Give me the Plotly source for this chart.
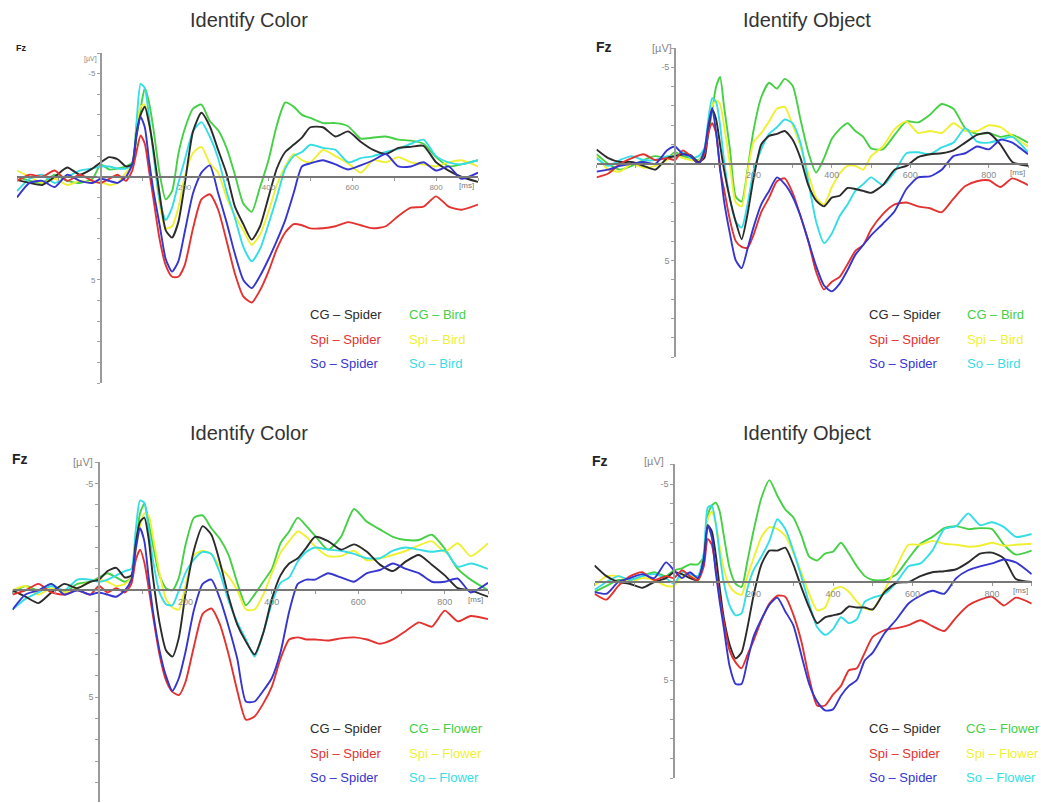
import plotly.graph_objects as go

# Shared time base (ms) for every averaged ERP waveform at Fz
time_ms = [-200, -170, -140, -110, -80, -50, -20, 0, 20, 40, 60, 75, 85, 95, 105, 115, 125,
           140, 155, 170, 185, 200, 220, 240, 260, 280, 300, 320, 340, 360, 380, 400, 420,
           440, 460, 480, 500, 530, 560, 590, 620, 650, 680, 710, 740, 770, 800, 830, 860, 900]

# ---- Identify Color, spider vs. bird (µV, negative up) ----
color_bird_cg_spider = [0.15, 0.3, 0.4, 0.0, -0.45, -0.1, -0.4, -0.7, -0.95, -0.85, -0.5, -0.6, -2.1, -3.0, -3.4, -2.6, -1.4,
                        0.8, 2.6, 2.95, 2.2, 0.4, -2.2, -3.1, -2.45, -1.3, -0.15, 1.45, 2.3, 3.05, 2.4, 1.0, -0.4,
                        -1.2, -1.55, -1.9, -2.4, -2.4, -1.95, -2.2, -1.7, -1.3, -1.1, -1.4, -1.45, -1.5, -0.7, -0.3, 0.0, 0.25]
color_bird_spi_spider = [0.2, -0.1, 0.0, -0.3, 0.2, -0.1, 0.2, 0.3, 0.1, -0.1, 0.2, -0.3, -1.2, -2.0, -1.6, -0.3, 1.0,
                         3.0, 4.3, 4.85, 4.85, 4.3, 2.5, 1.1, 0.85, 1.6, 3.1, 4.7, 5.8, 6.1, 5.5, 4.6, 3.5,
                         2.7, 2.3, 2.35, 2.5, 2.5, 2.4, 2.2, 2.35, 2.5, 2.4, 1.9, 1.5, 1.45, 0.95, 1.45, 1.6, 1.35]
color_bird_so_spider = [1.0, 0.3, 0.2, 0.5, -0.1, 0.2, 0.3, 0.1, 0.2, 0.3, 0.0, -0.6, -2.0, -2.9, -2.4, -0.8, 0.6,
                        2.3, 4.0, 4.6, 4.1, 2.7, 0.8, -0.2, -0.55, 0.8, 2.2, 3.75, 5.0, 5.4, 4.8, 4.0, 3.1,
                        2.1, 0.8, -0.5, -0.65, -0.8, -0.6, -0.35, -0.55, -0.8, -1.1, -0.5, -0.5, -0.7, -0.3, -0.5, 0.1, -0.2]
color_bird_cg_bird = [0.0, 0.2, 0.3, -0.1, 0.2, 0.3, 0.1, -0.6, -0.35, -0.4, -0.5, -0.7, -1.9, -3.3, -4.3, -3.6, -2.4,
                      -0.2, 1.1, 0.7, -1.1, -2.3, -3.3, -3.5, -2.7, -2.25, -1.4, -0.1, 1.3, 1.7, 0.5, -0.8, -2.5,
                      -3.6, -3.4, -3.0, -2.85, -2.6, -2.6, -2.45, -1.85, -1.9, -1.95, -1.8, -1.75, -1.6, -0.95, -0.5, -0.6, -0.8]
color_bird_spi_bird = [-0.3, 0.0, 0.3, 0.1, 0.4, 0.2, 0.3, 0.25, 0.4, 0.3, -0.2, -0.6, -2.5, -3.4, -3.5, -2.6, -1.3,
                       1.3, 2.5, 2.4, 1.5, 0.0, -1.15, -1.45, -0.65, -0.2, 1.0, 1.9, 2.6, 3.3, 2.8, 1.7, 0.4,
                       -0.5, -1.1, -0.8, -0.7, -1.3, -1.0, -0.65, -0.2, -0.8, -0.7, -0.95, -0.7, -0.6, -0.5, -0.7, -0.8, -0.5]
color_bird_so_bird = [0.7, 0.1, -0.1, 0.3, 0.0, -0.3, -0.4, -0.5, -0.5, -0.4, -0.4, -0.6, -2.6, -4.5, -4.3, -2.9, -1.2,
                      1.1, 2.1, 1.5, 0.3, -0.8, -2.2, -2.65, -1.95, -0.9, 0.7, 2.0, 3.4, 4.1, 3.5, 2.3, 1.0,
                      -0.4, -1.0, -1.2, -1.55, -1.4, -1.3, -0.7, -0.9, -1.0, -1.2, -1.35, -1.6, -1.8, -1.0, -0.7, -0.6, -0.8]

# ---- Identify Object, spider vs. bird ----
object_bird_cg_spider = [-0.75, -0.3, -0.1, -0.1, 0.1, 0.3, -0.3, -0.4, -0.5, -0.45, -0.1, -0.3, -1.7, -2.8, -2.3, -1.0, 0.3,
                         1.8, 3.0, 3.9, 2.6, 0.8, -1.0, -1.45, -1.55, -1.7, -1.25, -0.3, 1.1, 1.9, 2.2, 1.75, 1.65,
                         1.25, 1.3, 1.4, 1.5, 1.1, 0.3, 0.1, -0.35, -0.5, -0.55, -0.7, -1.1, -1.5, -1.6, -1.0, -0.1, 0.1]
object_bird_spi_spider = [0.7, 0.5, 0.0, -0.3, -0.5, -0.2, -0.3, -0.2, -0.7, -0.4, 0.0, -0.5, -1.6, -2.1, -1.6, 0.3, 1.3,
                          2.9, 4.0, 4.3, 4.35, 3.7, 2.5, 1.75, 0.9, 0.75, 1.5, 2.7, 4.0, 5.6, 6.5, 6.1, 5.85,
                          5.2, 4.5, 4.2, 3.4, 2.6, 2.1, 2.0, 2.2, 2.3, 2.5, 1.8, 1.15, 0.9, 0.85, 1.2, 0.75, 1.1]
object_bird_so_spider = [0.4, 0.3, 0.1, 0.0, -0.1, 0.0, -0.7, -0.9, -0.5, -0.4, 0.0, -0.7, -2.0, -2.9, -1.6, 0.2, 1.9,
                         3.6, 5.0, 5.4, 4.4, 3.3, 2.1, 1.4, 0.7, 1.05, 1.7, 2.7, 4.0, 5.3, 6.3, 6.6, 6.2,
                         5.5, 4.7, 4.2, 3.7, 3.1, 2.45, 1.3, 0.7, 0.65, 0.3, -0.4, -0.55, -0.9, -0.75, -1.25, -1.1, -0.5]
object_bird_cg_bird = [-0.5, 0.0, 0.3, 0.1, -0.2, -0.4, -0.3, -0.6, -0.4, -0.3, -0.2, -0.7, -1.5, -2.8, -4.0, -4.5, -3.0,
                       -0.8, 1.7, 1.95, 0.3, -1.7, -3.45, -4.2, -3.9, -4.4, -4.05, -2.3, -0.6, 0.45, -0.3, -1.3, -1.8,
                       -2.1, -1.7, -1.4, -0.8, -0.75, -1.5, -2.2, -2.15, -2.55, -3.1, -2.85, -1.85, -1.55, -1.6, -1.4, -1.5, -1.1]
object_bird_spi_bird = [-0.4, 0.3, 0.4, 0.0, 0.2, 0.1, -0.2, -0.5, -0.3, -0.2, -0.15, -0.6, -2.0, -3.0, -3.3, -3.1, -2.0,
                        0.0, 2.0, 2.2, 0.4, -1.1, -1.6, -2.2, -2.85, -2.95, -2.0, -0.9, 0.5, 1.75, 2.1, 1.2, 0.5,
                        0.1, 0.1, 0.3, -0.4, -0.9, -1.8, -2.2, -1.6, -1.7, -1.6, -2.1, -1.7, -1.7, -2.0, -1.9, -1.45, -0.9]
object_bird_so_bird = [-0.3, 0.1, -0.2, -0.4, -0.2, -0.2, -0.4, -0.4, -0.6, -0.3, -0.4, -0.8, -2.3, -3.4, -3.2, -2.0, -0.2,
                       1.8, 3.0, 3.3, 2.1, 0.4, -0.75, -1.55, -1.9, -2.3, -2.1, -1.1, 0.9, 3.0, 4.1, 3.6, 2.7,
                       2.1, 1.4, 1.05, 0.7, 1.1, 0.4, -0.55, -0.6, -0.5, -0.85, -1.1, -1.85, -1.15, -1.1, -1.25, -1.4, -0.6]

# ---- Identify Color, spider vs. flower ----
color_flower_cg_spider = [0.0, 0.3, 0.6, 0.1, -0.3, -0.1, -0.4, -0.5, -0.9, -1.05, -0.6, -0.7, -2.2, -3.2, -3.4, -2.4, -0.6,
                          1.5, 2.8, 3.1, 2.2, 0.2, -1.9, -3.0, -2.6, -1.3, 0.3, 1.6, 2.4, 3.0, 2.0, 0.4, -0.7,
                          -1.25, -1.5, -2.0, -2.5, -2.3, -1.9, -2.15, -1.8, -1.2, -0.9, -1.35, -1.65, -1.2, -0.7, -0.1, 0.0, 0.3]
color_flower_spi_spider = [0.2, 0.0, -0.3, 0.1, 0.2, 0.0, 0.2, -0.2, 0.1, -0.1, 0.1, -0.3, -1.4, -1.9, -1.3, -0.1, 1.2,
                           3.0, 4.2, 4.75, 4.9, 4.3, 2.6, 1.1, 0.85, 1.6, 3.0, 4.7, 6.05, 5.9, 5.3, 4.5, 3.2,
                           2.3, 2.2, 2.3, 2.3, 2.35, 2.25, 2.2, 2.3, 2.5, 2.3, 1.9, 1.5, 1.7, 0.95, 1.45, 1.2, 1.35]
color_flower_so_spider = [0.9, 0.2, 0.0, -0.3, 0.2, 0.0, 0.2, 0.1, 0.2, 0.3, 0.0, -0.5, -1.9, -2.9, -2.3, -0.6, 1.0,
                          2.8, 4.0, 4.7, 4.1, 2.9, 0.9, -0.3, -0.5, 0.4, 1.7, 3.2, 5.2, 5.2, 4.7, 4.1, 2.9,
                          1.0, -0.3, -0.5, -0.5, -0.8, -0.6, -0.4, -0.8, -0.95, -1.25, -1.0, -0.8, -0.4, -0.4, -0.55, 0.1, -0.35]
color_flower_cg_flower = [0.1, -0.2, 0.0, -0.3, 0.1, -0.3, -0.4, -0.6, -0.8, -0.6, -0.4, -0.6, -2.0, -3.6, -4.05, -3.2, -2.1,
                          -0.7, -0.1, 0.0, -0.6, -2.1, -3.4, -3.5, -2.9, -2.4, -1.65, -0.35, 0.7, 0.2, -0.4, -1.0, -2.2,
                          -2.75, -3.4, -3.0, -2.55, -1.9, -2.5, -3.8, -3.2, -2.85, -2.5, -2.35, -2.35, -2.6, -1.95, -1.0, -0.5, 0.0]
color_flower_spi_flower = [0.0, -0.2, 0.2, -0.1, 0.1, -0.1, -0.4, -0.5, -0.4, -0.2, -0.3, -0.6, -1.9, -3.0, -3.6, -3.5, -2.5,
                           -0.8, 0.4, 0.8, 0.9, -0.2, -1.65, -1.85, -1.7, -1.1, -0.65, 0.0, 0.9, 0.9, 0.2, -0.8, -1.75,
                           -2.3, -2.75, -2.5, -2.05, -1.6, -1.6, -1.85, -1.4, -1.5, -1.65, -1.85, -2.1, -2.3, -1.8, -2.2, -1.6, -2.2]
color_flower_so_flower = [0.9, 0.4, 0.1, -0.2, 0.0, -0.5, -0.5, -0.4, -0.5, -0.7, -0.9, -1.0, -2.8, -4.2, -4.1, -2.8, -1.4,
                          0.1, 0.65, 0.7, 0.0, -0.8, -1.45, -1.8, -1.7, -0.8, 0.5, 1.5, 2.3, 3.1, 2.0, 0.6, -0.35,
                          -0.6, -1.35, -1.8, -2.0, -1.9, -1.85, -1.7, -1.5, -1.5, -1.85, -2.0, -1.9, -1.8, -1.85, -1.1, -1.25, -1.0]

# ---- Identify Object, spider vs. flower ----
object_flower_cg_spider = [-0.85, -0.3, 0.0, 0.1, 0.3, 0.0, -0.2, -0.5, -0.4, -0.2, -0.1, -1.2, -2.9, -2.6, -1.4, 0.3, 1.8,
                           3.2, 3.9, 3.6, 2.3, 0.7, -0.9, -1.6, -1.6, -1.75, -0.9, 0.25, 1.3, 2.1, 1.8, 1.7, 1.6,
                           1.25, 1.3, 1.3, 1.4, 0.5, 0.05, 0.0, -0.3, -0.5, -0.55, -0.65, -1.0, -1.45, -1.5, -1.2, -0.15, 0.0]
object_flower_spi_spider = [0.6, 0.9, 0.2, -0.3, -0.5, -0.1, -0.3, -0.2, -0.6, -0.3, -0.1, -0.8, -2.2, -1.9, -0.7, 0.8, 2.0,
                            3.5, 4.1, 4.4, 3.7, 3.0, 1.95, 1.1, 0.7, 0.75, 1.65, 3.0, 4.9, 6.3, 6.3, 5.75, 5.3,
                            4.5, 4.4, 3.6, 2.8, 2.45, 2.35, 2.2, 1.95, 2.25, 2.5, 1.8, 1.2, 0.9, 0.75, 1.2, 0.8, 1.1]
object_flower_so_spider = [0.5, 0.6, 0.0, -0.2, -0.4, -0.2, -1.0, -0.6, -0.2, -0.5, -0.2, -1.0, -2.9, -2.3, -0.5, 1.0, 2.3,
                           4.3, 5.2, 5.2, 4.0, 2.8, 1.9, 1.15, 0.8, 1.5, 2.2, 3.7, 5.2, 6.1, 6.55, 6.5, 5.8,
                           5.3, 5.0, 4.0, 3.6, 2.6, 1.9, 1.1, 0.7, 0.45, 0.6, -0.2, -0.6, -0.8, -0.95, -1.15, -1.0, -0.4]
object_flower_cg_flower = [0.5, 0.2, -0.1, -0.1, -0.3, -0.5, -0.3, -0.6, -0.7, -0.9, -0.9, -1.3, -3.4, -3.9, -4.05, -3.6, -2.4,
                           -0.7, 0.1, 0.25, -1.1, -2.6, -4.3, -5.2, -4.4, -3.7, -3.3, -2.4, -1.3, -1.1, -1.45, -1.55, -2.0,
                           -1.45, -0.8, -0.3, -0.1, -0.1, -0.4, -1.2, -1.95, -2.3, -2.75, -2.85, -2.7, -2.75, -2.7, -1.9, -1.4, -1.6]
object_flower_spi_flower = [0.2, -0.3, -0.3, 0.0, -0.2, -0.1, 0.2, 0.2, -0.3, -0.4, -0.1, -1.0, -3.2, -3.6, -3.0, -1.8, -0.7,
                            0.2, 0.55, 0.65, -0.3, -1.2, -2.3, -2.8, -2.7, -2.35, -1.5, -0.5, 0.6, 1.45, 1.3, 0.4, 0.25,
                            0.5, 1.0, 1.35, 1.4, 0.4, -0.8, -1.9, -1.9, -2.1, -1.95, -1.9, -1.8, -1.85, -2.0, -1.85, -1.9, -1.95]
object_flower_so_flower = [0.4, 0.0, -0.3, -0.1, -0.3, -0.4, -0.2, 0.1, -0.5, -0.4, -0.3, -1.5, -3.8, -3.9, -3.0, -1.4, 0.0,
                           1.2, 1.7, 1.6, 0.3, -0.6, -1.3, -2.1, -3.2, -2.7, -1.6, -0.3, 1.1, 2.3, 2.7, 2.4, 1.8,
                           2.1, 1.9, 1.0, 0.8, 0.6, 0.0, -0.8, -0.95, -1.6, -2.7, -2.85, -3.5, -2.9, -3.05, -2.8, -2.3, -2.45]

# Tick labels
x_tick_labels = {200: "200", 400: "400", 600: "600", 800: "800"}
y_tick_labels = {-5: "-5", 5: "5"}

BLACK, RED, BLUE = "#2b2b2b", "#e3322f", "#3535cf"
GREEN, YELLOW, CYAN = "#45d045", "#f0f032", "#35dde6"

W, H = 1041, 803

# Each panel: title, second-stimulus name, series, pixel frame of the plotting box, y range bottom
panels = [
    dict(title="Identify Color", other="Bird", small=True,
         series=[color_bird_cg_spider, color_bird_spi_spider, color_bird_so_spider,
                 color_bird_cg_bird, color_bird_spi_bird, color_bird_so_bird],
         box=(17, 478, 53, 383), ybottom=10.0, legend_x=(308, 407), legend_y=(314, 339, 363),
         title_xy=(249, 20), fz_xy=(14, 48), uv_xy=(90, 59)),
    dict(title="Identify Object", other="Bird", small=False,
         series=[object_bird_cg_spider, object_bird_spi_spider, object_bird_so_spider,
                 object_bird_cg_bird, object_bird_spi_bird, object_bird_so_bird],
         box=(596.5, 1028, 48, 357), ybottom=10.0, legend_x=(867, 965), legend_y=(314, 339, 363),
         title_xy=(807, 20), fz_xy=(594, 47), uv_xy=(662, 48)),
    dict(title="Identify Color", other="Flower", small=False,
         series=[color_flower_cg_spider, color_flower_spi_spider, color_flower_so_spider,
                 color_flower_cg_flower, color_flower_spi_flower, color_flower_so_flower],
         box=(12.5, 488, 462, 802), ybottom=9.9, legend_x=(308, 407), legend_y=(728, 753, 777),
         title_xy=(249, 433), fz_xy=(10, 459), uv_xy=(83, 462)),
    dict(title="Identify Object", other="Flower", small=False,
         series=[object_flower_cg_spider, object_flower_spi_spider, object_flower_so_spider,
                 object_flower_cg_flower, object_flower_spi_flower, object_flower_so_flower],
         box=(594.5, 1031.75, 464.4, 778), ybottom=10.0, legend_x=(867, 964), legend_y=(728, 753, 777),
         title_xy=(807, 433), fz_xy=(590, 461), uv_xy=(654, 461)),
]

colors = [BLACK, RED, BLUE, GREEN, YELLOW, CYAN]
groups = ["CG", "Spi", "So"]
FONT = "Liberation Sans, Arial, sans-serif"
XMIN, XMAX, YTOP = -200, 900, -6.0

fig = go.Figure()
annotations = []
layout = {}

draw_order = [3, 4, 5, 0, 1, 2]

for i, p in enumerate(panels):
    n = "" if i == 0 else str(i + 1)
    xl, xr, yt, yb = p["box"]
    xdom = [xl / W, xr / W]
    ydom = [1 - yb / H, 1 - yt / H]
    zero_x = xdom[0] + (0 - XMIN) / (XMAX - XMIN) * (xdom[1] - xdom[0])
    zero_y = ydom[0] + (p["ybottom"] - 0) / (p["ybottom"] - YTOP) * (ydom[1] - ydom[0])

    names = [f"{g} – Spider" for g in groups] + [f"{g} – {p['other']}" for g in groups]
    for k in draw_order:
        fig.add_trace(go.Scatter(
            x=time_ms, y=p["series"][k], mode="lines", name=names[k],
            line=dict(color=colors[k], width=1.9, shape="spline", smoothing=0.6),
            xaxis="x" + n, yaxis="y" + n, showlegend=False, hoverinfo="skip"))

    tick_font = dict(family=FONT, size=8 if p["small"] else 9, color="#8a8a8a")
    layout["xaxis" + n] = dict(
        domain=xdom, range=[XMIN, XMAX], anchor="free", position=zero_y,
        showgrid=False, zeroline=False, showline=True, linecolor="#777777", linewidth=1.6,
        tickmode="array", tickvals=list(range(-200, 901, 100)),
        ticktext=[x_tick_labels.get(v, "") for v in range(-200, 901, 100)],
        ticks="outside", ticklen=3, tickcolor="#9a9a9a", tickfont=tick_font)
    layout["yaxis" + n] = dict(
        domain=ydom, range=[p["ybottom"], YTOP], anchor="free", position=zero_x,
        showgrid=False, zeroline=False, showline=True, linecolor="#9a9a9a", linewidth=1.5,
        tickmode="array", tickvals=list(range(-6, 11)),
        ticktext=[y_tick_labels.get(v, "") for v in range(-6, 11)],
        ticks="outside", ticklen=3, tickcolor="#a0a0a0", tickfont=tick_font)

    # axis unit labels
    annotations.append(dict(x=872, y=0, xref="x" + n, yref="y" + n, text="[ms]", showarrow=False,
                            yshift=-9, font=dict(family=FONT, size=8, color="#777777")))
    tx, ty = p["title_xy"]
    annotations.append(dict(x=tx / W, y=1 - ty / H, xref="paper", yref="paper", text=p["title"],
                            showarrow=False, xanchor="center", yanchor="middle",
                            font=dict(family=FONT, size=20, color="#333333")))
    fx, fy = p["fz_xy"]
    annotations.append(dict(x=fx / W, y=1 - fy / H, xref="paper", yref="paper", text="<b>Fz</b>",
                            showarrow=False, xanchor="left", yanchor="middle",
                            font=dict(family=FONT, size=9 if p["small"] else 14, color="#222222")))
    ux, uy = p["uv_xy"]
    annotations.append(dict(x=ux / W, y=1 - uy / H, xref="paper", yref="paper", text="[µV]",
                            showarrow=False, xanchor="center", yanchor="middle",
                            font=dict(family=FONT, size=7 if p["small"] else 11, color="#888888")))
    # two-column legend of coloured labels
    for k in range(6):
        col, row = divmod(k, 3)
        annotations.append(dict(x=p["legend_x"][col] / W, y=1 - p["legend_y"][row] / H,
                                xref="paper", yref="paper", text=names[k], showarrow=False,
                                xanchor="left", yanchor="middle",
                                font=dict(family=FONT, size=13, color=colors[k])))

fig.update_layout(
    width=W, height=H, margin=dict(l=0, r=0, t=0, b=0),
    paper_bgcolor="white", plot_bgcolor="rgba(0,0,0,0)",
    showlegend=False, annotations=annotations, **layout)

fig.write_html("out.html", config={"displayModeBar": False})
